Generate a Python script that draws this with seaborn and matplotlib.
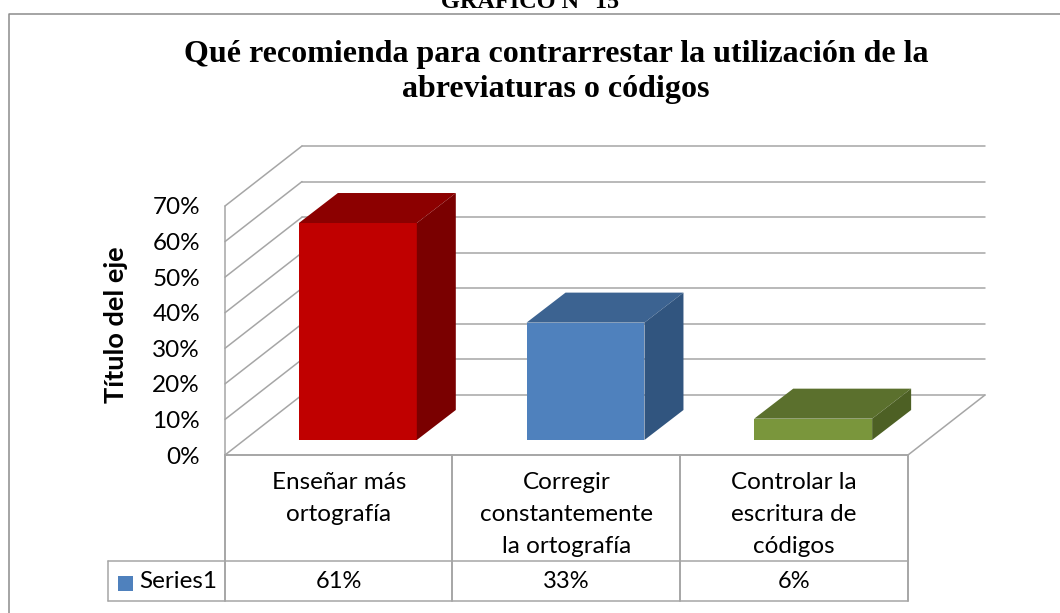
import matplotlib
matplotlib.use("Agg")
import matplotlib.pyplot as plt
import seaborn as sns
from matplotlib.patches import Polygon, Rectangle
from matplotlib.transforms import Affine2D, IdentityTransform, blended_transform_factory

categories = ["Enseñar más\nortografía",
              "Corregir\nconstantemente\nla ortografía",
              "Controlar la\nescritura de\ncódigos"]
values = [0.61, 0.33, 0.06]
value_labels = ["61%", "33%", "6%"]
y_ticks = [0, 0.1, 0.2, 0.3, 0.4, 0.5, 0.6, 0.7]
y_labels = ["0%", "10%", "20%", "30%", "40%", "50%", "60%", "70%"]
series_name = "Series1"
axis_title = "Título del eje"
title = "Qué recomienda para contrarrestar la utilización de la\nabreviaturas o códigos"
heading = "GRÁFICO N° 15"
front_colors = ["#C00000", "#4F81BD", "#7A963C"]
top_colors = ["#8C0000", "#3C6391", "#5B702D"]
side_colors = ["#7A0000", "#31557F", "#4D6024"]

W, H = 1060, 613
DPI = 100
GRID = "#A6A6A6"
LEFT, RIGHT, BASE, TOP = 225, 908, 455, 206
WALL_DX, WALL_DY = 77, 60
BAR_DX, BAR_DY = 39, 30
SHIFT_DX, SHIFT_DY = 19, 15
LABEL_FONT = "Lato"
LW = 1.1

sns.set_theme(style="white")
fig = plt.figure(figsize=(W / DPI, H / DPI), dpi=DPI, facecolor="white")

# overlay in pixel coordinates of the image for frame and table
ov = fig.add_axes([0, 0, 1, 1], zorder=0)
ov.set_xlim(0, W)
ov.set_ylim(H, 0)
ov.axis("off")

ax = fig.add_axes([LEFT / W, (H - BASE) / H, (RIGHT - LEFT) / W, (BASE - TOP) / H], zorder=1)
ax.patch.set_alpha(0)

sns.barplot(x=list(range(3)), y=values, hue=list(range(3)), palette=front_colors,
            width=0.518, legend=False, dodge=False, saturation=1, ax=ax, zorder=5)
ax.set_xlim(-0.5, 2.5)
ax.set_ylim(0, 0.7)
sns.despine(ax=ax, left=True, bottom=True)

# back wall, side wall and floor drawn from the value axis
back = ax.transData + Affine2D().translate(WALL_DX, WALL_DY)
for t in y_ticks:
    ax.plot([-0.5, 2.5], [t, t], color=GRID, lw=LW, transform=back, clip_on=False, zorder=1)
    x0, y0 = ax.transData.transform((-0.5, t))
    ax.plot([x0, x0 + WALL_DX], [y0, y0 + WALL_DY], color=GRID, lw=LW,
            transform=IdentityTransform(), clip_on=False, zorder=1)
x1, y1 = ax.transData.transform((2.5, 0))
ax.plot([x1, x1 + WALL_DX], [y1, y1 + WALL_DY], color=GRID, lw=LW,
        transform=IdentityTransform(), clip_on=False, zorder=1)

# extrude every bar that seaborn drew
for patch, c_top, c_side in zip(ax.patches, top_colors, side_colors):
    bb = patch.get_window_extent()
    l, r = bb.x0 + SHIFT_DX, bb.x1 + SHIFT_DX
    b, t = bb.y0 + SHIFT_DY, bb.y1 + SHIFT_DY
    patch.set_transform(ax.transData + Affine2D().translate(SHIFT_DX, SHIFT_DY))
    patch.set_clip_on(False)
    patch.set_linewidth(0)
    ax.add_patch(Polygon([(l, t), (r, t), (r + BAR_DX, t + BAR_DY), (l + BAR_DX, t + BAR_DY)],
                         closed=True, fc=c_top, ec="none", transform=IdentityTransform(),
                         clip_on=False, zorder=5))
    ax.add_patch(Polygon([(r, b), (r + BAR_DX, b + BAR_DY), (r + BAR_DX, t + BAR_DY), (r, t)],
                         closed=True, fc=c_side, ec="none", transform=IdentityTransform(),
                         clip_on=False, zorder=5))

# axis text
ax.set_yticks(y_ticks)
ax.set_yticklabels(y_labels, fontfamily=LABEL_FONT, fontsize=17.5, color="black")
ax.tick_params(axis="y", length=0, pad=18)
ax.set_xticks(range(3))
ax.set_xticklabels(categories, fontfamily=LABEL_FONT, fontsize=17.5, color="black",
                   linespacing=1.64)
ax.tick_params(axis="x", length=0, pad=12.5)
ax.set_xlabel("")
ax.set_ylabel(axis_title, fontfamily=LABEL_FONT, fontsize=19.5, fontweight="bold", color="black")
ax.yaxis.set_label_coords(128 / W, 0.5 + (BASE + TOP - 2 * 325) / (2 * (BASE - TOP)),
                          transform=blended_transform_factory(fig.transFigure, ax.transAxes))

# frame (open on the right and at the bottom, as in the cropped source)
ov.plot([8.5, 8.5, W], [H, 14, 14], color="#8C8C8C", lw=LW, clip_on=False)

# data table
T_MID, T_BOT, T_LEFT = 561, 601, 108
for xx in [LEFT, 452, 680, RIGHT]:
    ov.plot([xx, xx], [BASE, T_BOT], color=GRID, lw=1.4, clip_on=False)
ov.plot([LEFT, LEFT], [TOP, BASE], color=GRID, lw=LW, clip_on=False)
ov.plot([LEFT, RIGHT], [BASE, BASE], color=GRID, lw=1.4, clip_on=False)
ov.plot([T_LEFT, RIGHT], [T_MID, T_MID], color=GRID, lw=LW, clip_on=False)
ov.plot([T_LEFT, RIGHT], [T_BOT, T_BOT], color=GRID, lw=LW, clip_on=False)
ov.plot([T_LEFT, T_LEFT], [T_MID, T_BOT], color=GRID, lw=LW, clip_on=False)
ov.add_patch(Rectangle((118, 576), 15, 15, fc=front_colors[1], ec="none"))
ov.text(139, 582, series_name, fontfamily=LABEL_FONT, fontsize=17.5, va="center", ha="left", color="black")

row = blended_transform_factory(ax.transData, ov.transData)
for i, lab in enumerate(value_labels):
    ax.text(i, 582, lab, transform=row, fontfamily=LABEL_FONT, fontsize=17,
            ha="center", va="center", color="black", clip_on=False)

# titles
ov.text(556, 72, title, fontfamily="Liberation Serif", fontweight="bold", fontsize=23,
        ha="center", va="center", linespacing=1.26, color="black")
ov.text(W / 2, 2, heading, fontfamily="Liberation Serif", fontweight="bold", fontsize=17.5,
        ha="center", va="center", color="black", clip_on=True)

fig.savefig("out.png", dpi=DPI)
